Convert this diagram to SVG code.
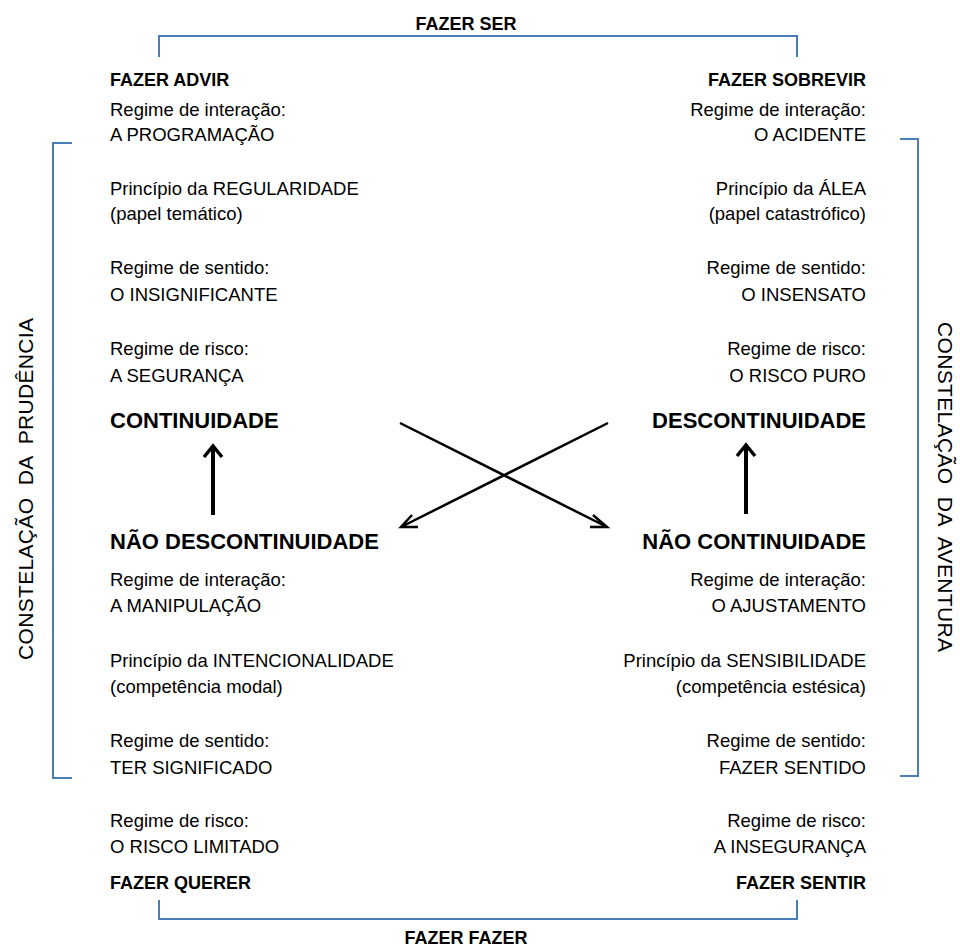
<svg xmlns="http://www.w3.org/2000/svg" width="960" height="947" viewBox="0 0 960 947">
<style>
text{font-family:"Liberation Sans",Arial,sans-serif;font-size:18.5px;fill:#000}
.b{font-weight:bold;font-size:18px}
.h{font-weight:bold;font-size:22px}
.r{text-anchor:end}
.c{text-anchor:middle}
.v{font-size:21px;white-space:pre}
.br{fill:none;stroke:#4a7ebb;stroke-width:2}
.ar{fill:none;stroke:#000;stroke-width:4}
.ah{fill:none;stroke:#000;stroke-width:3.5;stroke-linejoin:miter}
.ax{fill:none;stroke:#000;stroke-width:2.5}
</style>
<rect width="960" height="947" fill="#fff"/>
<g id="brackets">
<path class="br" d="M159,57 V36 H797 V57"/>
<path class="br" d="M159,900 V919 H797 V900"/>
<path class="br" d="M72,143 H53 V778 H72"/>
<path class="br" d="M900,139 H918 V776 H900"/>
</g>
<text class="b c" x="466" y="30">FAZER SER</text>
<text class="b c" x="466" y="944">FAZER FAZER</text>
<text class="v c" transform="translate(33,489) rotate(-90)" textLength="342" lengthAdjust="spacing">CONSTELAÇÃO  DA  PRUDÊNCIA</text>
<text class="v c" transform="translate(938,487) rotate(90)" textLength="330" lengthAdjust="spacing">CONSTELAÇÃO  DA  AVENTURA</text>
<g id="continuidade">
<text class="b" x="110" y="86">FAZER ADVIR</text>
<text x="110" y="116">Regime de interação:</text>
<text x="110" y="141">A PROGRAMAÇÃO</text>
<text x="110" y="195">Princípio da REGULARIDADE</text>
<text x="110" y="220">(papel temático)</text>
<text x="110" y="274">Regime de sentido:</text>
<text x="110" y="301">O INSIGNIFICANTE</text>
<text x="110" y="355">Regime de risco:</text>
<text x="110" y="382">A SEGURANÇA</text>
<text class="h" x="110" y="428">CONTINUIDADE</text>
</g>
<g id="descontinuidade">
<text class="b r" x="866" y="86">FAZER SOBREVIR</text>
<text class="r" x="866" y="116">Regime de interação:</text>
<text class="r" x="866" y="141">O ACIDENTE</text>
<text class="r" x="866" y="195">Princípio da ÁLEA</text>
<text class="r" x="866" y="220">(papel catastrófico)</text>
<text class="r" x="866" y="274">Regime de sentido:</text>
<text class="r" x="866" y="301">O INSENSATO</text>
<text class="r" x="866" y="355">Regime de risco:</text>
<text class="r" x="866" y="382">O RISCO PURO</text>
<text class="h r" x="866" y="428">DESCONTINUIDADE</text>
</g>
<g id="nao-descontinuidade">
<text class="h" x="110" y="549">NÃO DESCONTINUIDADE</text>
<text x="110" y="586">Regime de interação:</text>
<text x="110" y="612">A MANIPULAÇÃO</text>
<text x="110" y="667">Princípio da INTENCIONALIDADE</text>
<text x="110" y="693">(competência modal)</text>
<text x="110" y="747">Regime de sentido:</text>
<text x="110" y="774">TER SIGNIFICADO</text>
<text x="110" y="827">Regime de risco:</text>
<text x="110" y="853">O RISCO LIMITADO</text>
<text class="b" x="110" y="889">FAZER QUERER</text>
</g>
<g id="nao-continuidade">
<text class="h r" x="866" y="549">NÃO CONTINUIDADE</text>
<text class="r" x="866" y="586">Regime de interação:</text>
<text class="r" x="866" y="612">O AJUSTAMENTO</text>
<text class="r" x="866" y="667">Princípio da SENSIBILIDADE</text>
<text class="r" x="866" y="693">(competência estésica)</text>
<text class="r" x="866" y="747">Regime de sentido:</text>
<text class="r" x="866" y="774">FAZER SENTIDO</text>
<text class="r" x="866" y="827">Regime de risco:</text>
<text class="r" x="866" y="853">A INSEGURANÇA</text>
<text class="b r" x="866" y="889">FAZER SENTIR</text>
</g>
<g id="connectors">
<path class="ar" d="M213,515 V448"/>
<path class="ah" d="M204,457 L213,446 L222,457"/>
<path class="ar" d="M746,514 V447"/>
<path class="ah" d="M737,456 L746,445 L755,456"/>
<path class="ax" d="M400,423 L607,527 M593,515 L607,527 L590,527"/>
<path class="ax" d="M608,423 L401,527 M418,527 L401,527 L412,515"/>
</g>
</svg>
